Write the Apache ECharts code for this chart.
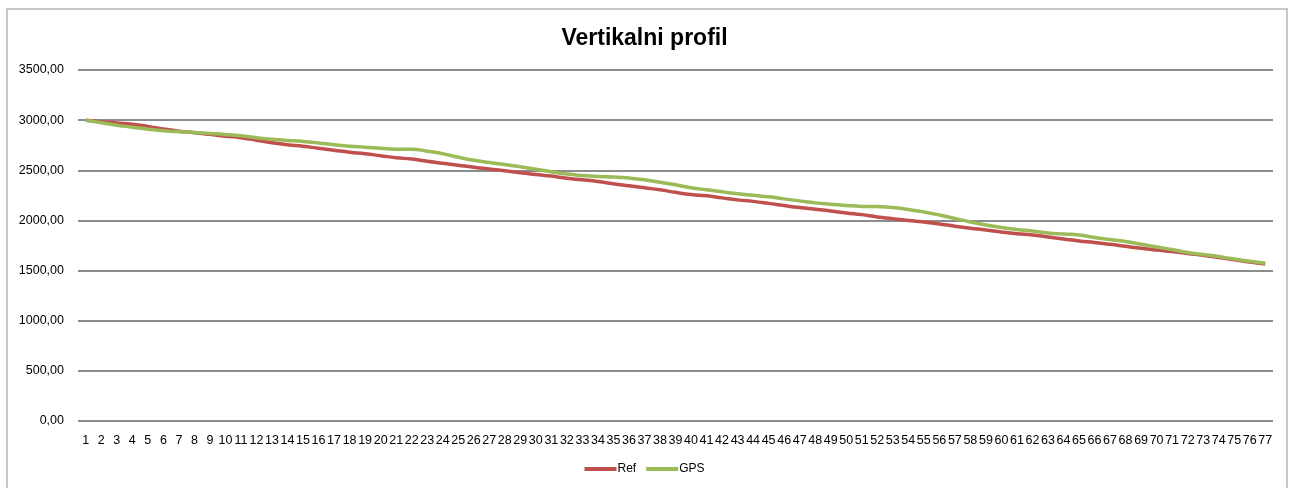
<!DOCTYPE html>
<html>
<head>
<meta charset="utf-8">
<script src="https://cdn.jsdelivr.net/npm/echarts@6/dist/echarts.min.js"></script>
<style>
  html, body { margin: 0; padding: 0; background: #fff; }
  #main { width: 1289px; height: 488px; }
</style>
</head>
<body>
<div id="main"></div>
<script>
var categories = [];
for (var i = 1; i <= 77; i++) categories.push(String(i));

var refData = [
    3000, 2985, 2972, 2960, 2938, 2912, 2890, 2875, 2858, 2840,
    2825, 2800, 2775, 2755, 2740, 2720, 2700, 2680, 2665, 2645,
    2625, 2612, 2590, 2570, 2550, 2530, 2512, 2495, 2475, 2458,
    2442, 2420, 2405, 2388, 2365, 2345, 2325, 2305, 2280, 2258,
    2245, 2225, 2205, 2190, 2170, 2148, 2128, 2112, 2095, 2075,
    2058, 2035, 2018, 2000, 1985, 1965, 1942, 1922, 1905, 1885,
    1868, 1855, 1835, 1815, 1795, 1780, 1762, 1742, 1722, 1705,
    1690, 1670, 1652, 1630, 1608, 1585, 1565
];

var gpsData = [
    3000, 2975, 2950, 2930, 2910, 2895, 2885, 2878, 2868, 2858,
    2845, 2825, 2810, 2798, 2787, 2772, 2755, 2740, 2730, 2720,
    2710, 2710, 2690, 2665, 2630, 2600, 2578, 2558, 2535, 2510,
    2485, 2462, 2448, 2438, 2432, 2422, 2405, 2380, 2355, 2325,
    2305, 2285, 2265, 2250, 2235, 2215, 2195, 2175, 2162, 2150,
    2140, 2138, 2130, 2110, 2085, 2055, 2020, 1985, 1955, 1930,
    1910, 1895, 1875, 1865, 1855, 1830, 1810, 1790, 1762, 1735,
    1710, 1680, 1660, 1640, 1615, 1592, 1572
];

var myChart = echarts.init(document.getElementById('main'));

var font = '"Liberation Sans", Arial, Helvetica, sans-serif';

myChart.setOption({
    animation: false,
    backgroundColor: '#fff',
    textStyle: { fontFamily: font },
    title: {
        text: 'Vertikalni profil',
        left: 'center',
        top: 22,
        textStyle: { fontFamily: font, fontSize: 23, fontWeight: 'bold', color: '#000' }
    },
    graphic: [{
        type: 'rect',
        shape: { x: 7, y: 9, width: 1280, height: 490 },
        style: { fill: 'none', stroke: '#c8c8c8', lineWidth: 2 },
        silent: true
    }],
    legend: {
        bottom: 8,
        left: 'center',
        itemWidth: 32,
        itemHeight: 4,
        itemGap: 10,
        icon: 'rect',
        textStyle: { fontFamily: font, fontSize: 12, color: '#000', padding: [0, 0, 0, -4] },
        data: ['Ref', 'GPS']
    },
    grid: { left: 78, right: 16, top: 70, bottom: 67 },
    xAxis: {
        type: 'category',
        data: categories,
        boundaryGap: true,
        axisLine: { show: false },
        axisTick: { show: false },
        axisLabel: { interval: 0, margin: 13, fontSize: 12.5, color: '#000', fontFamily: font }
    },
    yAxis: {
        type: 'value',
        min: 0,
        max: 3500,
        interval: 500,
        axisLine: { show: false },
        axisTick: { show: false },
        axisLabel: {
            margin: 14,
            fontSize: 12.5,
            color: '#000',
            fontFamily: font,
            formatter: function (v) { return v.toFixed(2).replace('.', ','); }
        },
        splitLine: { lineStyle: { color: '#8c8c8c', width: 2 } }
    },
    series: [{
        name: 'Ref',
        type: 'line',
        data: refData,
        smooth: true,
        symbol: 'none',
        itemStyle: { color: '#c0504d' },
        lineStyle: { color: '#c0504d', width: 3.5 }
    }, {
        name: 'GPS',
        type: 'line',
        data: gpsData,
        smooth: true,
        symbol: 'none',
        itemStyle: { color: '#9bbb59' },
        lineStyle: { color: '#9bbb59', width: 3.5 }
    }]
});
</script>
</body>
</html>
